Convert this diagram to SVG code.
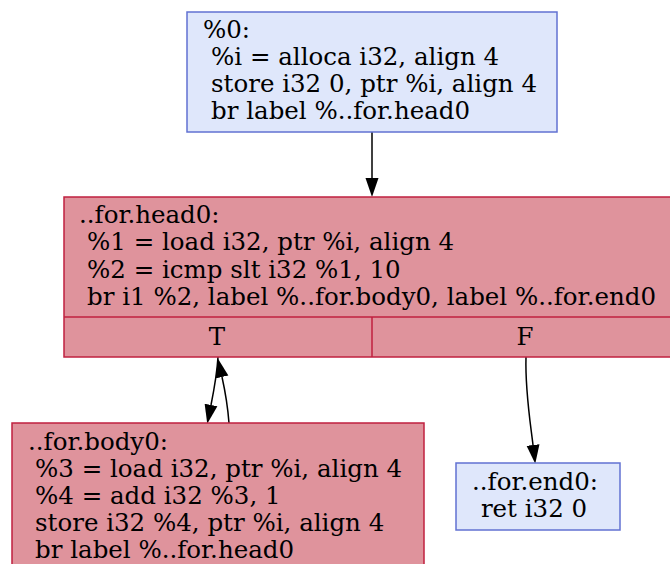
<svg xmlns="http://www.w3.org/2000/svg" width="670" height="564" viewBox="0 0 670 564">
<style>
.t{font-family:"DejaVu Serif","Liberation Serif",serif;font-size:24.5px;fill:#000}
.blue{fill:#dfe7fb;stroke:#6272d2;stroke-width:1.5}
.red{fill:#df939c;stroke:#c0203f;stroke-width:1.5}
.e{fill:none;stroke:#000;stroke-width:1.5}
</style>
<defs>
<marker id="ah" markerUnits="userSpaceOnUse" markerWidth="20" markerHeight="14" refX="0" refY="7" orient="auto" viewBox="0 0 20 14">
<path d="M0,0.5 L19,7 L0,13.5 Z" fill="#000"/>
</marker>
</defs>
<g id="connectors">
<path class="e" d="M372,132 L372,178" marker-end="url(#ah)"/>
<path class="e" d="M218,357 C217,373 214,390 211,405" marker-end="url(#ah)"/>
<path class="e" d="M229,423 C228,410 226,395 222,377" marker-end="url(#ah)"/>
<path class="e" d="M526,357 C525,390 530,420 533,445" marker-end="url(#ah)"/>
</g>
<g id="n0">
<rect class="blue" x="187" y="12" width="370" height="120"/>
<text class="t" x="203" y="38">%0:</text>
<text class="t" x="211" y="65">%i = alloca i32, align 4</text>
<text class="t" x="211" y="92">store i32 0, ptr %i, align 4</text>
<text class="t" x="211" y="119">br label %..for.head0</text>
</g>
<g id="head">
<rect class="red" x="64" y="197" width="616" height="160"/>
<line class="red" x1="64" y1="317" x2="680" y2="317"/>
<line class="red" x1="372" y1="317" x2="372" y2="357"/>
<text class="t" x="79" y="222.5">..for.head0:</text>
<text class="t" x="87" y="250">%1 = load i32, ptr %i, align 4</text>
<text class="t" x="87" y="277.5">%2 = icmp slt i32 %1, 10</text>
<text class="t" x="87" y="305">br i1 %2, label %..for.body0, label %..for.end0</text>
<text class="t" x="217" y="345" text-anchor="middle">T</text>
<text class="t" x="525" y="345" text-anchor="middle">F</text>
</g>
<g id="body">
<rect class="red" x="12" y="423" width="412" height="150"/>
<text class="t" x="28" y="450">..for.body0:</text>
<text class="t" x="35" y="477">%3 = load i32, ptr %i, align 4</text>
<text class="t" x="35" y="504">%4 = add i32 %3, 1</text>
<text class="t" x="35" y="531">store i32 %4, ptr %i, align 4</text>
<text class="t" x="35" y="558">br label %..for.head0</text>
</g>
<g id="end">
<rect class="blue" x="456" y="463" width="164" height="67"/>
<text class="t" x="535" y="490" text-anchor="middle">..for.end0:</text>
<text class="t" x="534" y="517" text-anchor="middle">ret i32 0</text>
</g>
</svg>
